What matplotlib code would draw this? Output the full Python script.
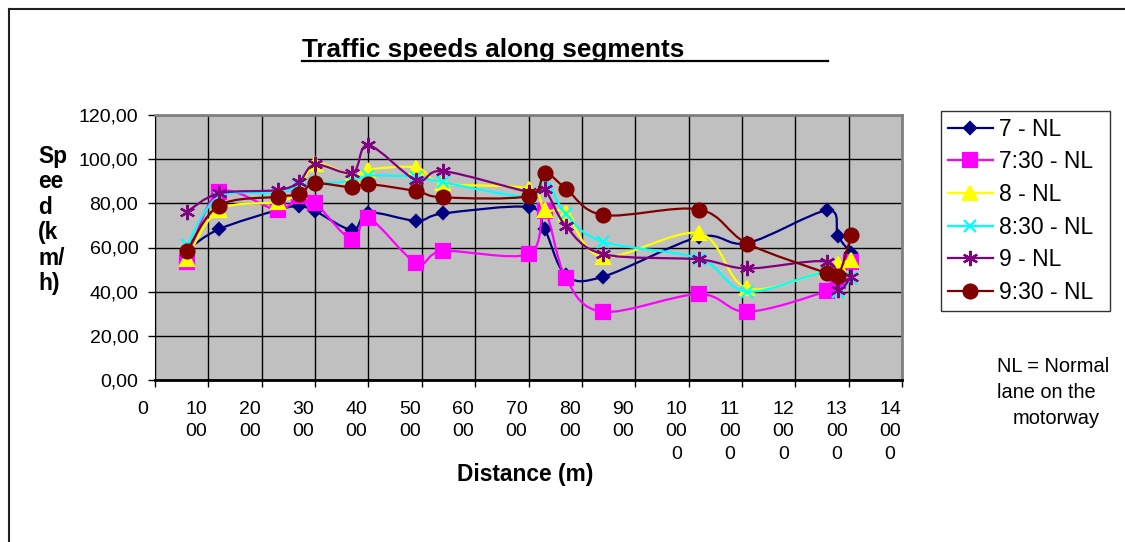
import matplotlib
matplotlib.use('Agg')
import matplotlib.pyplot as plt
import matplotlib.transforms as mtransforms
from matplotlib.path import Path
from matplotlib.patches import PathPatch
from matplotlib.lines import Line2D

plt.rcParams['font.family'] = ['Liberation Sans', 'DejaVu Sans']

# distance along the road (m) where speeds were measured
distance = [600, 1200, 2300, 2700, 3000, 3700, 4000, 4900, 5400, 7000,
            7300, 7700, 8400, 10200, 11100, 12600, 12800, 13050]

# speeds (km/h) per departure time, normal lane
speed_7_00 = [59, 68.3, 77, 78.7, 76.5, 67.9, 75.8, 72.1, 75.4, 78.3,
              68.6, 47.5, 46.8, 64.8, 62, 76.8, 65.2, 57.3]
speed_7_30 = [53.5, 85, 77, 83.5, 80.2, 63.3, 73.4, 53, 58.4, 57,
              76.5, 46, 30.9, 38.9, 30.9, 40.4, 45, 53.5]
speed_8_00 = [55, 77, 80.7, 85.5, 98, 92.5, 95.3, 96.2, 89, 86.7,
              77, 75.5, 55.8, 66.4, 41.5, 50, 52.5, 54.3]
speed_8_30 = [61, 83, 84.6, 88, 89, 90, 92.5, 92, 89.5, 83,
              91, 75.1, 62.6, 55, 40, 49, 40, 46]
speed_9_00 = [76.2, 84.5, 86, 89.7, 97.6, 93.8, 106.3, 90.5, 94.6, 85.2,
              86.3, 69.7, 57, 54.6, 50.5, 53.5, 40.7, 46.7]
speed_9_30 = [58.5, 79, 83, 84.2, 89, 87.2, 88.7, 85.5, 82.7, 83.3,
              93.6, 86.7, 74.7, 77.2, 61.8, 48.3, 47, 65.5]

series_names = ['7 - NL', '7:30 - NL', '8 - NL', '8:30 - NL', '9 - NL', '9:30 - NL']
series_values = [speed_7_00, speed_7_30, speed_8_00, speed_8_30, speed_9_00, speed_9_30]

x_ticks = list(range(0, 14001, 1000))
x_tick_labels = ['0', '10\n00', '20\n00', '30\n00', '40\n00', '50\n00', '60\n00',
                 '70\n00', '80\n00', '90\n00', '10\n00\n0', '11\n00\n0',
                 '12\n00\n0', '13\n00\n0', '14\n00\n0']
y_ticks = [0, 20, 40, 60, 80, 100, 120]

# excel-ish look for each series
colors = ['#000080', '#FF00FF', '#FFFF00', '#00FFFF', '#800080', '#800000']
markers = ['D', 's', '^', 'x', (6, 2, 0), 'o']
msizes = [6.5, 9.5, 10, 9, 11, 10]


def smooth_path(xs, ys):
    # bezier segments like excel's "smoothed line"
    verts = [(xs[0], ys[0])]
    codes = [Path.MOVETO]
    n = len(xs)
    for i in range(n - 1):
        a = i - 1 if i > 0 else i
        d = i + 2 if i + 2 < n else i + 1
        c1 = (xs[i] + (xs[i + 1] - xs[a]) / 6.0, ys[i] + (ys[i + 1] - ys[a]) / 6.0)
        c2 = (xs[i + 1] - (xs[d] - xs[i]) / 6.0, ys[i + 1] - (ys[d] - ys[i]) / 6.0)
        verts += [c1, c2, (xs[i + 1], ys[i + 1])]
        codes += [Path.CURVE4] * 3
    return Path(verts, codes)


W, H = 1125, 542
fig = plt.figure(figsize=(W / 100, H / 100), dpi=100)
fig.patch.set_facecolor('white')

ax = fig.add_axes([155 / W, (H - 380) / H, 747 / W, 265 / H])
ax.set_facecolor('#C0C0C0')
ax.set_xlim(0, 14000)
ax.set_ylim(0, 120)

handles = []
for k, (name, vals) in enumerate(zip(series_names, series_values)):
    z = 3 + 2 * k
    patch = PathPatch(smooth_path(distance, vals), fill=False, edgecolor=colors[k],
                      lw=1.6, zorder=z, capstyle='round', joinstyle='round')
    ax.add_patch(patch)
    ax.plot(distance, vals, linestyle='none', marker=markers[k], ms=msizes[k],
            color=colors[k], mec=colors[k], mew=1.6, zorder=z + 1, clip_on=False)
    handles.append(Line2D([], [], color=colors[k], lw=1.6, marker=markers[k],
                          ms=msizes[k], mec=colors[k], mew=1.6))

ax.set_xticks(x_ticks)
ax.set_xticklabels(x_tick_labels, fontsize=14, linespacing=1.42, multialignment='center')
ax.set_yticks(y_ticks)
ax.set_yticklabels(['%d,00' % v for v in y_ticks], fontsize=14)
ax.grid(True, color='black', lw=1)
ax.set_axisbelow(True)
ax.tick_params(axis='both', direction='out', length=5, width=1, color='black')
ax.tick_params(axis='x', pad=10)
ax.tick_params(axis='y', pad=7)
for s in ['top', 'right']:
    ax.spines[s].set_color('#808080')
    ax.spines[s].set_linewidth(2)
ax.spines['left'].set_color('black')
ax.spines['bottom'].set_color('black')
ax.spines['bottom'].set_linewidth(2)

shift = mtransforms.ScaledTranslation(-12 / 100, 0, fig.dpi_scale_trans)
for lab in ax.get_xticklabels():
    lab.set_transform(lab.get_transform() + shift)

# titles and notes
fig.text(302 / W, 1 - 57 / H, 'Traffic speeds along segments', fontsize=18.8,
         fontweight='bold', ha='left', va='baseline')
fig.add_artist(Line2D([302 / W, 828 / W], [1 - 61 / H, 1 - 61 / H], color='black', lw=1.6))

fig.text(525 / W, 1 - 475 / H, 'Distance (m)', fontsize=16.4, fontweight='bold',
         ha='center', va='center')
fig.text(38 / W, 1 - 220 / H, 'Sp\nee\nd\n(k\nm/\nh)', fontsize=16.4, fontweight='bold',
         ha='left', va='center', linespacing=1.13)

fig.text(997 / W, 1 - 367 / H, 'NL = Normal', fontsize=14.4, ha='left', va='center')
fig.text(997 / W, 1 - 393 / H, 'lane on the', fontsize=14.4, ha='left', va='center')
fig.text(1013 / W, 1 - 418 / H, 'motorway', fontsize=14.4, ha='left', va='center')

leg = fig.legend(handles, series_names, loc='upper left',
                 bbox_to_anchor=(940.7 / W, 1 - 307.3 / H, 169.3 / W, 196.3 / H),
                 mode='expand', borderaxespad=0,
                 fontsize=16.5, frameon=True, fancybox=False, handlelength=2.0,
                 handletextpad=0.25, borderpad=0.3, labelspacing=0.42)
leg.get_frame().set_edgecolor('black')
leg.get_frame().set_linewidth(1)

# chart border (only top and left visible in the crop)
fig.add_artist(Line2D([8.5 / W, 1], [1 - 8.5 / H, 1 - 8.5 / H], color='#202020', lw=1.5))
fig.add_artist(Line2D([8.5 / W, 8.5 / W], [0, 1 - 8.5 / H], color='#202020', lw=1.5))

fig.savefig('out.png', dpi=100, facecolor='white')
